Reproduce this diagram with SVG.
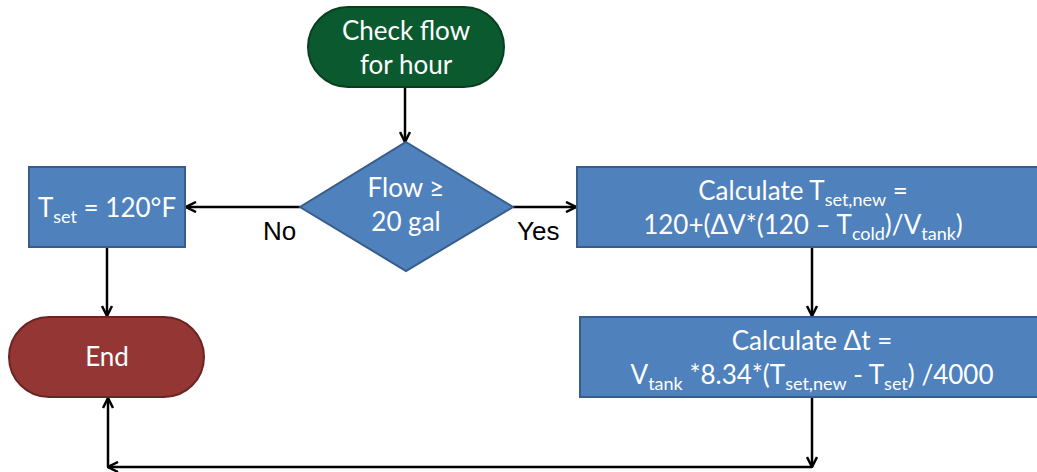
<svg xmlns="http://www.w3.org/2000/svg" width="1037" height="472" viewBox="0 0 1037 472">
  <style>
    .lbl { font-family: Lato, "Open Sans", "Liberation Sans", sans-serif; font-size: 26px; fill: #ffffff; text-anchor: middle; }
    .sub { font-size: 18px; }
    .yn { font-family: "Liberation Sans", Arial, sans-serif; font-size: 26px; fill: #000000; }
    .proc { fill: #4F81BD; stroke: #385D8A; stroke-width: 2; }
    .wire { fill: none; stroke: #000000; stroke-width: 2.5; marker-end: url(#arrow); }
  </style>
  <defs>
    <marker id="arrow" viewBox="0 0 12 12" refX="11" refY="6" markerWidth="12" markerHeight="12" markerUnits="userSpaceOnUse" orient="auto">
      <path d="M1,1 L11,6 L1,11" fill="none" stroke="#000000" stroke-width="2.5"/>
    </marker>
  </defs>

  <rect width="1037" height="472" fill="#ffffff"/>

  <g id="connectors">
    <line class="wire" x1="405" y1="87" x2="405" y2="142"/>
    <line class="wire" x1="300" y1="207" x2="186" y2="207"/>
    <line class="wire" x1="513" y1="207" x2="576" y2="207"/>
    <line class="wire" x1="107" y1="247" x2="107" y2="316"/>
    <line class="wire" x1="812" y1="247" x2="812" y2="316"/>
    <line class="wire" x1="812" y1="397" x2="812" y2="467"/>
    <line class="wire" x1="812" y1="467" x2="108" y2="467"/>
    <line class="wire" x1="108" y1="467" x2="108" y2="398"/>
  </g>

  <g id="start">
    <rect x="308" y="7" width="196" height="80" rx="40" ry="40" fill="#0B5A2F" stroke="#08401F" stroke-width="2"/>
    <text class="lbl" x="406" y="40">Check flow</text>
    <text class="lbl" x="406" y="74">for hour</text>
  </g>

  <g id="decision">
    <polygon points="406,142 513,207 406,271 300,207" class="proc"/>
    <text class="lbl" x="406" y="197">Flow ≥</text>
    <text class="lbl" x="406" y="231">20 gal</text>
  </g>

  <g id="label-no">
    <text class="yn" x="263" y="240">No</text>
  </g>
  <g id="label-yes">
    <text class="yn" x="517" y="240">Yes</text>
  </g>

  <g id="set-default">
    <rect x="29" y="167" width="156" height="80" class="proc"/>
    <text class="lbl" x="107" y="217">T<tspan class="sub" dy="6">set</tspan><tspan dy="-6"> = 120°F</tspan></text>
  </g>

  <g id="calc-setpoint">
    <rect x="577" y="167" width="470" height="80" class="proc"/>
    <text class="lbl" x="803" y="200">Calculate T<tspan class="sub" dy="6">set,new</tspan><tspan dy="-6"> =</tspan></text>
    <text class="lbl" x="803" y="234">120+(ΔV*(120 – T<tspan class="sub" dy="6">cold</tspan><tspan dy="-6">)/V</tspan><tspan class="sub" dy="6">tank</tspan><tspan dy="-6">)</tspan></text>
  </g>

  <g id="calc-time">
    <rect x="580" y="317" width="467" height="80" class="proc"/>
    <text class="lbl" x="812" y="350">Calculate Δt =</text>
    <text class="lbl" x="812" y="384">V<tspan class="sub" dy="6">tank</tspan><tspan dy="-6"> *8.34*(T</tspan><tspan class="sub" dy="6">set,new</tspan><tspan dy="-6"> - T</tspan><tspan class="sub" dy="6">set</tspan><tspan dy="-6">) /4000</tspan></text>
  </g>

  <g id="end">
    <rect x="9" y="317" width="195" height="80" rx="40" ry="40" fill="#943634" stroke="#6A2523" stroke-width="2"/>
    <text class="lbl" x="107" y="366">End</text>
  </g>
</svg>
